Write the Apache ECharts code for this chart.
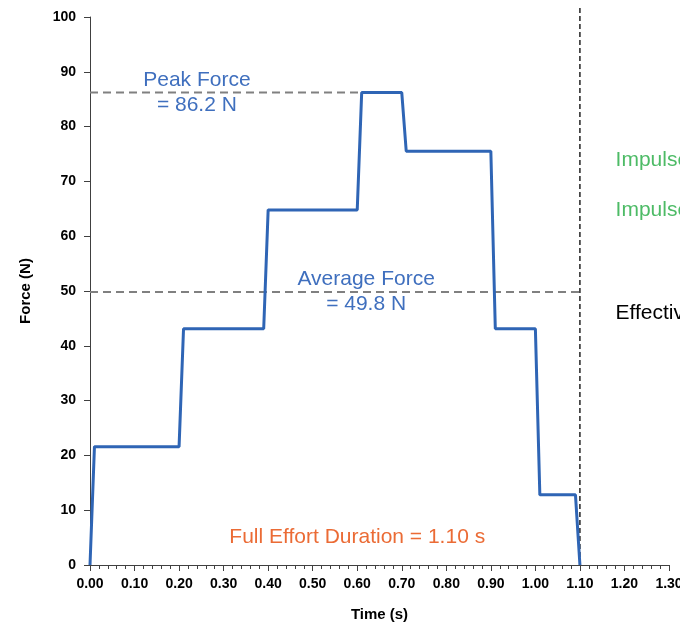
<!DOCTYPE html>
<html>
<head>
<meta charset="utf-8">
<script src="https://cdn.jsdelivr.net/npm/echarts@6/dist/echarts.min.js"></script>
<style>
  html, body { margin: 0; padding: 0; background: #fff; }
  #main { width: 680px; height: 625px; }
</style>
</head>
<body>
<div id="main"></div>
<script>
// force profile
var times = [0, 0.01, 0.20, 0.21, 0.39, 0.40, 0.60, 0.61, 0.70, 0.71, 0.90, 0.91, 1.00, 1.01, 1.09, 1.10];
var forces = [0, 21.6, 21.6, 43.1, 43.1, 64.8, 64.8, 86.2, 86.2, 75.5, 75.5, 43.1, 43.1, 12.8, 12.8, 0];

var peakForce = 86.2;
var avgForce = 49.8;
var duration = 1.10;

var xTicks = { min: 0, max: 1.3, step: 0.1 };
var yTicks = { min: 0, max: 100, step: 10 };

// text notes: [x, y, text, colour, align]
var notes = [
    [0.24, 86.2, 'Peak Force\n= 86.2 N', '#3F6FBE', 'center'],
    [0.62, 49.8, 'Average Force\n= 49.8 N', '#3F6FBE', 'center'],
    [0.60, 5.1, 'Full Effort Duration = 1.10 s', '#EB6B35', 'center'],
    [1.18, 73.9, 'Impulse', '#4DBB66', 'left'],
    [1.18, 64.8, 'Impulse', '#4DBB66', 'left'],
    [1.18, 46.0, 'Effective', '#000000', 'left']
];

var profile = times.map(function (t, i) { return [t, forces[i]]; });

var dom = document.getElementById("main");
var myChart = echarts.init(dom);
var option = null;

option = {
    animation: false,
    grid: { left: 90, right: 11, top: 17, bottom: 60, containLabel: false, outerBoundsMode: 'none' },
    xAxis: {
        type: 'value',
        min: xTicks.min,
        max: xTicks.max,
        interval: xTicks.step,
        name: 'Time (s)',
        nameLocation: 'middle',
        nameGap: 42,
        nameTextStyle: { fontFamily: 'Liberation Sans', fontWeight: 'bold', fontSize: 15, color: '#000' },
        axisLine: { lineStyle: { color: '#404040', width: 1 } },
        axisTick: { length: 6, lineStyle: { color: '#404040' } },
        minorTick: { show: true, splitNumber: 5, length: 4, lineStyle: { color: '#404040' } },
        splitLine: { show: false },
        axisLabel: {
            margin: 12,
            fontFamily: 'Liberation Sans', fontWeight: 'bold', fontSize: 14, color: '#000',
            formatter: function (v) { return v.toFixed(2); }
        }
    },
    yAxis: {
        type: 'value',
        min: yTicks.min,
        max: yTicks.max,
        interval: yTicks.step,
        name: 'Force (N)',
        nameLocation: 'middle',
        nameGap: 57,
        nameTextStyle: { fontFamily: 'Liberation Sans', fontWeight: 'bold', fontSize: 15, color: '#000' },
        axisLine: { show: true, lineStyle: { color: '#404040', width: 1 } },
        axisTick: { show: true, length: 6, lineStyle: { color: '#404040' } },
        splitLine: { show: false },
        axisLabel: {
            margin: 14,
            fontFamily: 'Liberation Sans', fontWeight: 'bold', fontSize: 14, color: '#000'
        }
    },
    series: [
        {
            name: 'peak',
            type: 'line',
            data: [[0, peakForce], [0.70, peakForce]],
            symbol: 'none',
            lineStyle: { color: '#808080', width: 2, type: [8, 5] },
            z: 1
        },
        {
            name: 'average',
            type: 'line',
            data: [[0, avgForce], [duration, avgForce]],
            symbol: 'none',
            lineStyle: { color: '#808080', width: 2, type: [8, 5] },
            z: 1
        },
        {
            name: 'duration',
            type: 'line',
            clip: false,
            data: [[duration, 0], [duration, 101.7]],
            symbol: 'none',
            lineStyle: { color: '#000', width: 1.3, type: [5, 3] },
            z: 1
        },
        {
            name: 'force',
            type: 'line',
            data: profile,
            symbol: 'none',
            lineStyle: { color: '#2F65B5', width: 3 },
            z: 3
        }
    ]
};

if (option && typeof option === "object") {
    myChart.setOption(option, true);
}

// place text notes through the axes
var texts = notes.map(function (n) {
    var p = myChart.convertToPixel({ gridIndex: 0 }, [n[0], n[1]]);
    return {
        type: 'text',
        x: p[0],
        y: p[1],
        z: 10,
        style: {
            text: n[2],
            fill: n[3],
            font: '21px "Liberation Sans"',
            lineHeight: 25,
            align: n[4],
            verticalAlign: 'middle'
        }
    };
});
myChart.setOption({ graphic: texts });
</script>
</body>
</html>
